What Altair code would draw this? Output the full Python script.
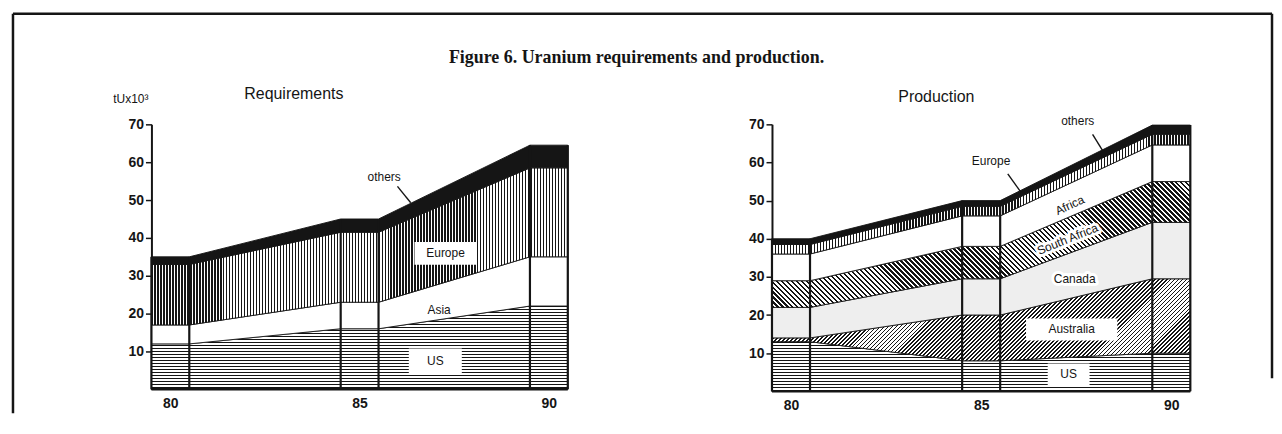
import math
import altair as alt
import pandas as pd

# ---------------- data ----------------
years = [80, 85, 90]
half_band = 0.5          # every survey year is drawn as a one-year flat band

req_names = ["US", "Asia", "Europe", "others"]
req_us = [12, 16, 22]
req_asia = [5, 7, 13]
req_europe = [16, 18.5, 23.5]
req_others = [2, 3.5, 6]

prod_names = ["US", "Australia", "Canada", "South Africa", "Africa", "Europe", "others"]
prod_us = [13, 8, 10]
prod_australia = [1, 12, 19.5]
prod_canada = [8, 9.5, 14.8]
prod_south_africa = [7, 8.5, 10.7]
prod_africa = [7, 8, 9.6]
prod_europe = [2.5, 2.5, 2.8]
prod_others = [1.5, 1.5, 2.4]

y_ticks = [10, 20, 30, 40, 50, 60, 70]
x_labels = [80, 85, 90]

# annotation positions (data units)
req_box_x = [86.45, 86.3]
req_box_x2 = [88.1, 87.7]
req_box_y = [32.9, 4.2]
req_box_y2 = [38.9, 10.8]
req_text = ["Europe", "Asia", "US", "others"]
req_text_x = [87.27, 87.1, 87.0, 85.65]
req_text_y = [35.9, 21.0, 7.5, 56.2]
req_text_angle = [0, 0, 0, 0]
req_text_halo = [0, 0, 0, 0]
req_lead_x, req_lead_y, req_lead_x2, req_lead_y2 = [86.0], [53.6], [86.35], [49.3]

prod_box_x = [86.18, 86.75]
prod_box_x2 = [88.58, 87.85]
prod_box_y = [13.3, 1.6]
prod_box_y2 = [19.1, 7.3]
prod_text = ["others", "Europe", "Africa", "South Africa", "Canada", "Australia", "US"]
prod_text_x = [87.54, 85.26, 87.33, 87.27, 87.46, 87.38, 87.3]
prod_text_y = [70.8, 60.3, 48.8, 39.9, 29.5, 16.2, 4.4]
prod_text_angle = [0, 0, 335, 338, 0, 0, 0]
prod_text_halo = [0, 0, 0, 1, 1, 0, 0]
prod_lead_x, prod_lead_y = [87.93, 85.7], [67.4, 57.0]
prod_lead_x2, prod_lead_y2 = [88.19, 86.04], [63.2, 52.3]

# ---------------- style ----------------
INK = "#151515"
SANS = "Liberation Sans"
SERIF = "Liberation Serif"
LW, LH = 418, 266     # left plot area
RW, RH = 420, 268     # right plot area
Y_MAX = 70
X_LO, X_HI = years[0] - half_band, years[-1] + half_band


def stripes(normal_deg, W, H, period, frac, ink=INK, paper="white"):
    """hatch texture as a hard-stop linear gradient in bounding-box units"""
    a = math.radians(normal_deg)
    nx, ny = math.cos(a), math.sin(a)
    nx = 0.0 if abs(nx) < 1e-9 else nx
    ny = 0.0 if abs(ny) < 1e-9 else ny
    corners = [(0, 0), (W, 0), (0, H), (W, H)]
    proj = [nx * cx + ny * cy for cx, cy in corners]
    lo = min(proj)
    L = max(proj) - lo
    cx, cy = corners[proj.index(lo)]
    S = nx * nx * W * W + ny * ny * H * H
    k = L / S
    x1, y1 = cx / W, cy / H
    x2, y2 = x1 + k * nx * W, y1 + k * ny * H
    n = L / period
    stops = []
    i = 0
    while i / n < 1:
        a0 = i / n
        a1 = min((i + frac) / n, 1.0)
        a2 = min((i + 1) / n, 1.0)
        stops += [(a0, ink), (a1, ink), (a1, paper), (a2, paper)]
        i += 1
    return {"gradient": "linear", "x1": x1, "y1": y1, "x2": x2, "y2": y2,
            "stops": [{"offset": round(o, 6), "color": c} for o, c in stops]}


def bbox_heights(series, H):
    sy = H / Y_MAX
    cum = [0.0] * len(years)
    out = []
    for vals in series:
        tops = [c + v for c, v in zip(cum, vals)]
        out.append(max((max(tops) - min(cum)) * sy, 1.0))
        cum = tops
    return out


def build(names, series):
    rows = []
    for order, (name, vals) in enumerate(zip(names, series)):
        for yr, v in zip(years, vals):
            for side in (-half_band, half_band):
                rows.append({"series": name, "order": order, "x": yr + side, "v": v})
    return pd.DataFrame(rows)


def bounds_table(series):
    rows = []
    for i, yr in enumerate(years):
        tot = sum(vals[i] for vals in series)
        for side in (-half_band, half_band):
            rows.append({"x": yr + side, "base": 0, "total": tot})
    return pd.DataFrame(rows)


x_axis = alt.Axis(values=x_labels, domain=False, ticks=False, grid=False, labelFontSize=14,
                  labelPadding=7, labelFont=SANS, labelColor=INK, format="d", labelFlush=False,
                  labelFontWeight="bold")
y_axis = alt.Axis(values=y_ticks, domain=True, domainWidth=2, domainColor=INK, tickColor=INK,
                  tickWidth=1.5, tickSize=6, grid=False, labelFontSize=14, labelPadding=2,
                  labelFont=SANS, labelColor=INK, labelFlush=False, labelFontWeight="bold")


def panel(names, series, fills, W, H, boxes, texts, leads, extras=None):
    xs = alt.Scale(domain=[X_LO, X_HI], nice=False, zero=False)
    ys = alt.Scale(domain=[0, Y_MAX], nice=False)

    def X(f):
        return alt.X(f, type="quantitative", scale=xs, axis=x_axis, title=None)

    def Y(f):
        return alt.Y(f, type="quantitative", scale=ys, axis=y_axis, title=None)

    df = build(names, series)
    base = alt.Chart(df).transform_stack(
        stack="v", groupby=["x"], sort=[alt.SortField(field="order", order="ascending")],
        as_=["y0", "y1"])
    layers = []
    for name, fill in zip(names, fills):
        layers.append(
            base.transform_filter(alt.datum.series == name)
            .mark_area(fill=fill, stroke=INK, strokeWidth=0.9, interpolate="linear")
            .encode(x=X("x"), y=Y("y1"), y2=alt.Y2("y0:Q"))
        )
    bt = bounds_table(series)
    layers.append(alt.Chart(bt).mark_rule(color=INK, strokeWidth=2.2)
                  .encode(x=X("x"), y=Y("base"), y2=alt.Y2("total:Q")))
    edge = pd.DataFrame({"x": [X_LO], "x2": [X_HI], "base": [0]})
    layers.append(alt.Chart(edge).mark_rule(color=INK, strokeWidth=2.5)
                  .encode(x=X("x"), x2=alt.X2("x2:Q"), y=Y("base")))
    layers.append(alt.Chart(boxes).mark_rect(fill="white", stroke=None)
                  .encode(x=X("x"), x2=alt.X2("x2:Q"), y=Y("y"), y2=alt.Y2("y2:Q")))
    layers.append(alt.Chart(leads).mark_rule(color=INK, strokeWidth=1.4)
                  .encode(x=X("x"), x2=alt.X2("x2:Q"), y=Y("y"), y2=alt.Y2("y2:Q")))
    layers.append(alt.Chart(texts).transform_filter(alt.datum.halo == 1)
                  .mark_text(font=SANS, fontSize=12, color="white", stroke="white",
                             strokeWidth=6, strokeJoin="round", baseline="middle")
                  .encode(x=X("x"), y=Y("y"), text="label:N",
                          angle=alt.Angle("angle:Q", scale=None)))
    layers.append(alt.Chart(texts).mark_text(font=SANS, fontSize=12, color=INK, baseline="middle")
                  .encode(x=X("x"), y=Y("y"), text="label:N",
                          angle=alt.Angle("angle:Q", scale=None)))
    if extras:
        layers += extras
    return alt.layer(*layers).properties(width=W, height=H)


def tbl(**cols):
    return pd.DataFrame(cols)


# ---------------- textures ----------------
req_series = [req_us, req_asia, req_europe, req_others]
prod_series = [prod_us, prod_australia, prod_canada, prod_south_africa, prod_africa,
               prod_europe, prod_others]
lh = bbox_heights(req_series, LH)
rh = bbox_heights(prod_series, RH)
DIAG4 = 4 / math.sqrt(2)
DIAG5 = 5 / math.sqrt(2)
req_fills = [
    stripes(90, LW, lh[0], 3.0, 0.42),
    "white",
    stripes(0, LW, lh[2], 3.0, 0.45),
    INK,
]
prod_fills = [
    stripes(90, RW, rh[0], 3.0, 0.42),
    stripes(45, RW, rh[1], DIAG4, 0.45),
    "#eeeeee",
    stripes(-45, RW, rh[3], DIAG5, 0.5),
    "white",
    stripes(0, RW, rh[5], 3.0, 0.5),
    INK,
]

# ---------------- page furniture (pixel offsets from left plot origin) ----------------
one = pd.DataFrame({"k": [0]})
frame = [
    alt.Chart(one).mark_rule(color=INK, strokeWidth=2.5)
    .encode(x=alt.value(-139), x2=alt.value(1125), y=alt.value(-111)),
    alt.Chart(one).mark_rule(color=INK, strokeWidth=2.5)
    .encode(x=alt.value(-139), y=alt.value(-111), y2=alt.value(290)),
    alt.Chart(one).mark_rule(color=INK, strokeWidth=2.5)
    .encode(x=alt.value(1125), y=alt.value(-111), y2=alt.value(255)),
    alt.Chart(one).mark_text(text="Figure 6.  Uranium requirements and production.", font=SERIF,
                             fontSize=18, fontWeight="bold", color=INK, baseline="middle")
    .encode(x=alt.value(487), y=alt.value(-67)),
    alt.Chart(one).mark_text(text="Requirements", font=SANS, fontSize=16, color=INK,
                             baseline="middle")
    .encode(x=alt.value(143), y=alt.value(-30)),
    alt.Chart(one).mark_text(text="tUx10³", font=SANS, fontSize=12, color=INK,
                             baseline="middle", align="right")
    .encode(x=alt.value(-3), y=alt.value(-25)),
]
prod_extra = [
    alt.Chart(one).mark_text(text="Production", font=SANS, fontSize=16, color=INK,
                             baseline="middle")
    .encode(x=alt.value(165), y=alt.value(-27)),
]

left = panel(
    req_names, req_series, req_fills, LW, LH,
    tbl(x=req_box_x, x2=req_box_x2, y=req_box_y, y2=req_box_y2),
    tbl(label=req_text, x=req_text_x, y=req_text_y, angle=req_text_angle, halo=req_text_halo),
    tbl(x=req_lead_x, y=req_lead_y, x2=req_lead_x2, y2=req_lead_y2),
    extras=frame,
)
right = panel(
    prod_names, prod_series, prod_fills, RW, RH,
    tbl(x=prod_box_x, x2=prod_box_x2, y=prod_box_y, y2=prod_box_y2),
    tbl(label=prod_text, x=prod_text_x, y=prod_text_y, angle=prod_text_angle, halo=prod_text_halo),
    tbl(x=prod_lead_x, y=prod_lead_y, x2=prod_lead_x2, y2=prod_lead_y2),
    extras=prod_extra,
)

chart = (
    alt.hconcat(left, right, spacing=205, bounds="flush")
    .properties(padding={"left": 3, "top": 3, "right": 0, "bottom": 0}, background="white")
    .configure_view(stroke=None)
)

chart.save("out.html", embed_options={"renderer": "svg", "actions": False})
